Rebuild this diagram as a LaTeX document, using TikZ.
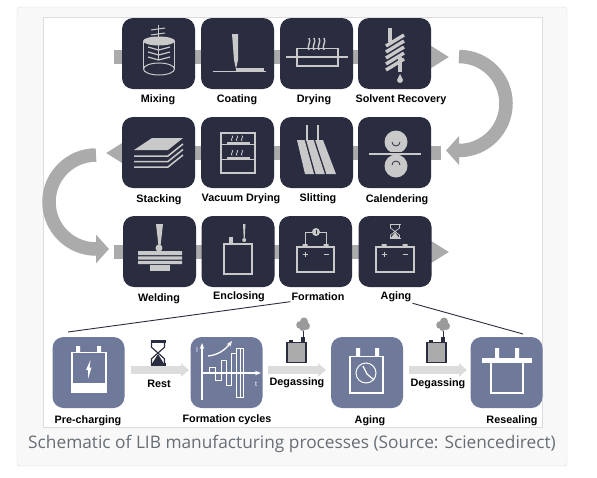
\documentclass[tikz,border=0pt]{standalone}
\usepackage{fontspec}
\setmainfont{Liberation Sans}
\newfontfamily\captionfont{Open Sans}
\usetikzlibrary{arrows.meta}
\definecolor{tileDark}{HTML}{2A2D40}
\definecolor{tileBlue}{HTML}{6F7A9B}
\definecolor{iconGrey}{HTML}{C9C9C9}
\definecolor{flowGrey}{HTML}{ABABAB}
\definecolor{restGrey}{HTML}{DCDCDC}
\definecolor{smokeGrey}{HTML}{9A9A9A}
\definecolor{cardEdge}{HTML}{DDDDDD}
\definecolor{cardFill}{HTML}{F8F8F8}
\definecolor{captionGrey}{HTML}{666D75}
\tikzset{
  darktile/.style={fill=tileDark, rounded corners=11pt, minimum width=73pt, minimum height=71pt, inner sep=0pt},
  bluetile/.style={fill=tileBlue, rounded corners=11pt, minimum width=72pt, minimum height=71pt, inner sep=0pt},
  steplabel/.style={font=\fontsize{10.8}{12}\selectfont\bfseries, text=black, inner sep=1pt},
  rowflow/.style={draw=flowGrey, line width=14pt, -{Triangle[length=18pt, width=21pt]}},
  bigflow/.style={draw=flowGrey, line width=13.5pt, -{Triangle[length=13pt, width=28pt]}},
  lowflow/.style={draw=restGrey, line width=7.5pt, -{Triangle[length=8pt, width=13pt]}},
  iconline/.style={draw=iconGrey, line width=1.5pt},
  whiteline/.style={draw=white, line width=1.5pt},
  leader/.style={draw=tileDark, line width=0.9pt}
}
\newcommand{\heatwave}[3]{% x, top y, height
  \draw[iconline, line width=#3*0.1pt+0.2pt] (#1,#2) .. controls (#1+2.6,#2+#3*0.33) and (#1-2.6,#2+#3*0.67) .. (#1,#2+#3);
}
\newcommand{\hourglass}[5]{% centre x, centre y, half width, half height, colour
  \draw[draw=#5, line width=#4*0.22pt] (#1-#3,#2-#4) -- (#1+#3,#2-#4) (#1-#3,#2+#4) -- (#1+#3,#2+#4);
  \draw[draw=#5, line width=#4*0.1pt] (#1-#3+1,#2-#4) -- (#1-#3+1,#2-#4*0.5) -- (#1+#3-1,#2+#4*0.5) -- (#1+#3-1,#2+#4)
    (#1+#3-1,#2-#4) -- (#1+#3-1,#2-#4*0.5) -- (#1-#3+1,#2+#4*0.5) -- (#1-#3+1,#2+#4);
  \fill[#5] (#1,#2+#4*0.1) -- (#1+#3-1,#2+#4) -- (#1-#3+1,#2+#4) -- cycle;
}
\newcommand{\ventcell}[2]{% centre x of the chimney, left x of the cell
  \fill[tileDark] (#2+2,339.5) rectangle (#2+6,343);
  \draw[draw=tileDark, line width=1pt] (#1,343) -- (#1,331);
  \fill[tileDark] (#1-2,337) rectangle (#1+2,343);
  \draw[draw=tileDark, fill=flowGrey, line width=1.6pt] (#2,342.5) rectangle (#2+19,362.5);
  \fill[smokeGrey] (#1+1,321.5) circle (4pt) (#1-3,325) circle (3.8pt) (#1+3,326) circle (4pt) (#1-0.5,328) circle (3pt);
}
\begin{document}
\begin{tikzpicture}[x=1pt, y=-1pt, font=\fontsize{10.8}{12}\selectfont]
  \useasboundingbox (0,0) rectangle (597,477);
  \fill[white] (0,0) rectangle (597,477);
  \draw[draw=cardEdge, fill=cardFill, rounded corners=3pt] (17,7) rectangle (567,466);
  \draw[draw=cardEdge, fill=white] (43,17) rectangle (542.5,427);

  \coordinate (rowOneStart) at (114,57);
  \coordinate (rowOneEnd) at (449,57);
  \coordinate (rowTwoStart) at (441,153);
  \coordinate (rowTwoEnd) at (106,153);
  \coordinate (rowThreeStart) at (114,252);
  \coordinate (rowThreeEnd) at (449,252);
  \draw[rowflow] (rowOneStart) -- (rowOneEnd);
  \draw[rowflow] (rowTwoStart) -- (rowTwoEnd);
  \draw[rowflow] (rowThreeStart) -- (rowThreeEnd);
  \draw[bigflow] (459,56.5) arc (-90:90:47) -- (446,150.5);
  \draw[bigflow] (96,155) arc (-90:-270:47) -- (109,249);

  \foreach \name/\x/\y in {mixing/158.5/53.5, coating/237.5/53.5, drying/316.5/53.5, solvent/394.5/53.5,
                           stacking/158.5/152.5, vacuum/237.5/152.5, slitting/316.5/152.5, calender/394.5/152.5,
                           welding/159.5/251.5, enclosing/238/251.5, formation/315.5/251.5, aging/395/251.5}
    \node[darktile] (\name) at (\x,\y) {};

  \foreach \name/\x/\y/\txt in {lblMixing/158/100/Mixing, lblCoating/237/100/Coating, lblDrying/314/100/Drying,
                                lblSolvent/401/100/Solvent Recovery, lblStacking/159/199.5/Stacking,
                                lblVacuum/241/199/Vacuum Drying, lblSlitting/318/198.5/Slitting,
                                lblCalender/397/200/Calendering, lblWelding/159/298.5/Welding,
                                lblEnclosing/239/297/Enclosing, lblFormation/318/296.5/Formation,
                                lblAging/396/297/Aging, lblRest/159/384/Rest, lblDegasOne/297/383/Degassing,
                                lblDegasTwo/438/384/Degassing, lblPre/88/421/Pre-charging,
                                lblCycles/227/420/Formation cycles, lblAgingLow/370/420.5/Aging,
                                lblReseal/512/420.5/Resealing}
    \node[steplabel] (\name) at (\x,\y) {\txt};

  % mixing
  \fill[iconGrey] (159,41) ellipse (16pt and 4.5pt);
  \draw[iconline, line width=1pt] (143.5,41) -- (143.5,69) (174.5,41) -- (174.5,69);
  \draw[iconline, line width=1pt] (159,69) ellipse (15.5pt and 6pt);
  \draw[iconline, line width=1.2pt] (158.7,25) -- (158.7,60);
  \foreach \y in {47,52,57} \draw[iconline, line width=1.2pt] (148,\y) -- (158.7,\y+3) -- (170,\y);
  \draw[iconline, line width=1pt] (151,30) -- (165,28) (151,35) -- (165,33);
  % coating
  \fill[iconGrey] (232,34) -- (238,34) -- (238,60) -- (236,69) -- (234,60) -- cycle;
  \fill[iconGrey] (236,68) rectangle (264,71);
  \draw[iconline, line width=1pt] (213,71) -- (266,71);
  % drying
  \draw[iconline] (297,48.5) rectangle (338,66);
  \draw[iconline, line width=2pt] (286,57) -- (348,57);
  \foreach \x in {309,314,319,324} \heatwave{\x}{38}{12}
  % solvent recovery
  \draw[iconline, line width=4pt] (390,28) -- (390,42);
  \foreach \k in {0,6,12,18,24} \draw[iconline, line width=3.4pt] (386,46+\k) -- (404,35+\k);
  \draw[iconline, line width=3.4pt] (400,57) -- (400,72);
  \fill[iconGrey] (400,74) -- (403,80) arc (0:180:3) -- cycle;
  % stacking
  \fill[iconGrey] (134,150) -- (152,138) -- (183,138) -- (168,150) -- cycle;
  \foreach \y in {156,161.5,167} \draw[iconline] (134,\y) -- (168,\y) -- (183,\y-12);
  % vacuum drying
  \draw[iconline] (221,133) rectangle (255,173);
  \draw[iconline] (221,144.5) -- (255,144.5) (221,159.5) -- (255,159.5);
  \draw[iconline, line width=1.2pt] (227,143) -- (250,143) (227,158) -- (250,158);
  \foreach \x in {232,237,242} {\heatwave{\x}{135.5}{5.5} \heatwave{\x}{150}{5.5}}
  % slitting
  \draw[iconline, line width=2.4pt] (307,125) -- (307,141) (318,125) -- (318,141);
  \fill[iconGrey] (297,140) -- (304.6,140) -- (314,174) -- (305,174) -- cycle;
  \fill[iconGrey] (306.2,140) -- (313.6,140) -- (324.8,174) -- (315.6,174) -- cycle;
  \fill[iconGrey] (315.2,140) -- (323,140) -- (336,174) -- (326.4,174) -- cycle;
  % calendering
  \fill[iconGrey] (396,142) circle (11.5pt) (396,166) circle (11.5pt);
  \draw[draw=tileDark, line width=3.4pt] (369,153.5) -- (421,153.5);
  \draw[iconline, line width=2pt] (369,153.5) -- (421,153.5);
  \draw[draw=tileDark, line width=0.8pt] (392,142) arc (180:0:4) (392,165) arc (180:360:4);
  % welding
  \fill[iconGrey] (156,224) -- (163,224) -- (160.5,246) -- (158.5,246) -- cycle;
  \fill[iconGrey] (159,248) circle (3.5pt);
  \fill[iconGrey] (138,251) rectangle (182,255) (138,256.3) rectangle (182,259.5) (138,260.8) rectangle (182,264);
  \fill[iconGrey] (150,265) rectangle (170,271);
  % enclosing
  \draw[iconline] (224,244) rectangle (252,274);
  \fill[iconGrey] (229,237) rectangle (233,242.5);
  \fill[iconGrey] (243,224) -- (245.5,224) -- (244.7,238) -- (243.7,238) -- cycle;
  \fill[iconGrey] (244.2,240) circle (2pt);
  % formation
  \draw[iconline] (297,247) rectangle (334,272);
  \fill[iconGrey] (302.5,244) rectangle (307.5,247) (323.5,244) rectangle (328.5,247);
  \draw[iconline, line width=1pt] (305,244) -- (305,232) -- (326,232) -- (326,244);
  \fill[iconGrey] (316,232) circle (4pt);
  \draw[draw=tileDark, line width=0.9pt] (316,229.5) -- (316,234);
  \draw[iconline, line width=1pt] (302.5,254) -- (307.5,254) (305,251.5) -- (305,256.5) (323.5,254) -- (328.5,254);
  % aging
  \draw[iconline] (376,247) rectangle (414,272);
  \fill[iconGrey] (381.5,244) rectangle (386.5,247) (402.5,244) rectangle (407.5,247);
  \draw[iconline, line width=1pt] (381.5,254) -- (386.5,254) (384,251.5) -- (384,256.5) (402.5,254) -- (407.5,254);
  \hourglass{395}{231.5}{5.5}{7}{iconGrey}

  \coordinate (leadFormation) at (68,332);
  \coordinate (leadAging) at (523,334);
  \draw[leader] (lblFormation.south west) -- (leadFormation);
  \draw[leader] (lblAging.south east) -- (leadAging);

  \coordinate (restStart) at (131,370);
  \coordinate (restEnd) at (189,370);
  \coordinate (degasOneStart) at (268,370);
  \coordinate (degasOneEnd) at (326,370);
  \coordinate (degasTwoStart) at (409,370);
  \coordinate (degasTwoEnd) at (467,370);
  \draw[lowflow] (restStart) -- (restEnd);
  \draw[lowflow] (degasOneStart) -- (degasOneEnd);
  \draw[lowflow] (degasTwoStart) -- (degasTwoEnd);

  \foreach \name/\x in {precharge/88.5, cycles/226.5, agingLow/367, reseal/506.5}
    \node[bluetile] (\name) at (\x,372.5) {};

  % pre-charging
  \draw[whiteline] (72,352.5) rectangle (106,392);
  \fill[white] (76,346) rectangle (80,352) (97,346) rectangle (101,352);
  \fill[white] (72,383) rectangle (106,392);
  \fill[white] (90.5,360) -- (86,370) -- (88,370) -- (88,379) -- (91.5,367.5) -- (89.5,367.5) -- cycle;
  % rest
  \hourglass{158}{353}{7.5}{11.5}{tileDark}
  % formation cycles
  \draw[white, line width=1.3pt, -{Stealth[length=6pt]}] (202,400) -- (202,343);
  \draw[white, line width=1.3pt, -{Stealth[length=6pt]}] (203,373) -- (261,373);
  \draw[white, line width=1.3pt, -{Stealth[length=6pt]}] (208,356) .. controls (218,355) and (225,350) .. (232,341);
  \draw[white, line width=0.9pt] (209,367) rectangle (215,373) (215,373) rectangle (221,380)
    (221,360) rectangle (226,373) (226,373) rectangle (231,385) (231,353) rectangle (236,373)
    (236,348) rectangle (240,397) (240,348) rectangle (243,397);
  \node[text=white, font=\fontsize{7}{8}\selectfont, inner sep=0pt] (axisI) at (197,350) {I};
  \node[text=white, font=\fontsize{7}{8}\selectfont, inner sep=0pt] (axisT) at (256,384) {t};
  % degassing cells
  \ventcell{303}{287}
  \ventcell{443}{427}
  % aging
  \draw[whiteline] (350,356.5) rectangle (383,393);
  \fill[white] (356,348) rectangle (360,356) (375,348) rectangle (379,356);
  \draw[whiteline, line width=1pt] (366,373) circle (10pt);
  \draw[whiteline, line width=1.2pt] (363,366) -- (367,374) -- (374,380);
  % resealing
  \draw[whiteline] (491,362) rectangle (523,393);
  \fill[white] (482,358) rectangle (532,363);
  \fill[white] (495,348) rectangle (499,358) (515,348) rectangle (519,358);

  \node[font=\captionfont\fontsize{17.3}{19}\selectfont, text=captionGrey, inner sep=0pt] (caption) at (292,444)
    {Schematic of LIB manufacturing processes (Source: Sciencedirect)};
\end{tikzpicture}
\end{document}
